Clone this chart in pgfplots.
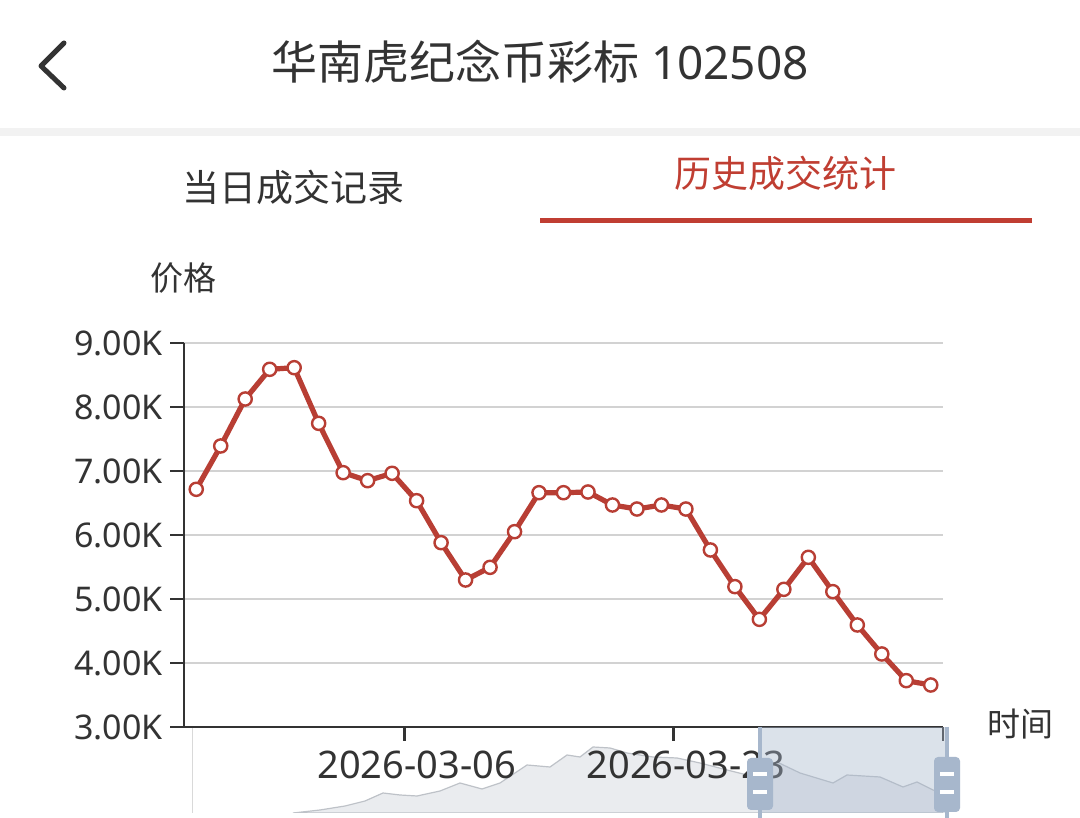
\documentclass[border=0pt]{standalone}
\usepackage{pgfplots}
\pgfplotsset{compat=1.18}
\usepackage{fontspec}
\setmainfont{Noto Sans}
\newfontfamily\cjk{Noto Sans CJK SC}
\definecolor{linered}{RGB}{184,62,52}
\definecolor{tabred}{RGB}{192,62,50}
\definecolor{txt}{RGB}{51,51,51}
\definecolor{gridc}{RGB}{210,210,210}
\definecolor{handle}{RGB}{167,183,204}
\definecolor{shadowfill}{RGB}{234,236,239}
\definecolor{shadowline}{RGB}{190,194,200}

\begin{document}
\begin{tikzpicture}[x=0.5pt,y=0.5pt]
\path[use as bounding box, fill=white] (0,0) rectangle (1080,818);
% header
\draw[txt, line width=2.5pt, line cap=round, line join=round] (64,775) -- (41,752) -- (64,730);
\node[txt, font=\fontsize{23}{23}\selectfont] at (540,756) {{\cjk 华南虎纪念币彩标} 102508};
\fill[black!5] (0,682) rectangle (1080,690);
\node[txt, font=\cjk\fontsize{18.5}{18.5}\selectfont] at (293,631) {当日成交记录};
\node[tabred, font=\cjk\fontsize{18.5}{18.5}\selectfont] at (785,645) {历史成交统计};
\fill[tabred] (540,595) rectangle (1032,600);

% data zoom shadow
\begin{axis}[at={(96pt,2.5pt)}, anchor=south west, scale only axis,
  width=375.5pt, height=43pt, xmin=192, xmax=943, ymin=0, ymax=86,
  hide axis, clip=true]
\addplot[fill=shadowfill, draw=shadowline, line width=0.6pt] coordinates {
(293,0)(320,3)(345,7)(365,12)(383,20)(400,18)(417,17)(440,22)(460,30)(482,24)
(500,30)(527,48)(550,46)(567,58)(580,56)(593,66)(610,65)(627,60)(653,56)(677,55)
(700,50)(727,43)(747,38)(762,45)(777,51)(800,40)(833,30)(847,38)(880,36)(903,26)
(917,31)(933,23)(943,20)} \closedcycle;
\end{axis}
\draw[black!15, line width=0.5pt] (192,91) -- (192,5);

% main chart
\begin{axis}[at={(92pt,45.5pt)}, anchor=south west, scale only axis,
  width=379.5pt, height=192pt,
  xmin=-0.5, xmax=30.5, ymin=3000, ymax=9000,
  axis lines*=left,
  axis line style={txt, line width=1.4pt},
  tick style={txt, line width=1.4pt},
  tick align=outside, major tick length=7pt,
  ytick={3000,4000,5000,6000,7000,8000,9000},
  yticklabels={3.00K,4.00K,5.00K,6.00K,7.00K,8.00K,9.00K},
  y tick label style={font=\fontsize{17}{17}\selectfont, text=txt},
  ymajorgrids, grid style={gridc, line width=1pt},
  xtick={8.5,19.5,30.5}, xticklabels={},
  extra x ticks={9,20},
  extra x tick labels={2026-03-06,2026-03-23},
  extra x tick style={major tick length=0pt, tick style={draw=none},
     tick label style={font=\fontsize{19}{19}\selectfont, text=txt, yshift=-8.5pt}},
  clip=false]
\addplot[linered, line width=2.6pt, line join=round, mark=*, mark size=3.3pt,
  mark options={fill=white, draw=linered, line width=1.2pt}] coordinates {
(0,6714)(1,7391)(2,8125)(3,8589)(4,8614)(5,7745)(6,6974)(7,6849)(8,6964)(9,6536)
(10,5880)(11,5297)(12,5495)(13,6052)(14,6661)(15,6661)(16,6672)(17,6469)(18,6406)(19,6469)
(20,6406)(21,5766)(22,5193)(23,4682)(24,5151)(25,5651)(26,5115)(27,4594)(28,4141)(29,3724)
(30,3656)};
\end{axis}

\node[txt, font=\cjk\fontsize{16.5}{16.5}\selectfont] at (183,540) {价格};
\node[txt, font=\cjk\fontsize{16.5}{16.5}\selectfont] at (1020,94) {时间};

% data zoom window and handles
\fill[handle, opacity=0.4] (760,5) rectangle (947,91);
\draw[handle, line width=2pt] (760,91) -- (760,0);
\draw[handle, line width=2pt] (947,91) -- (947,0);
\fill[handle, rounded corners=2pt] (747,8) rectangle (773,60);
\fill[handle, rounded corners=2pt] (934,6) rectangle (960,61);
\fill[white] (753,42) rectangle (767,46);
\fill[white] (753,24) rectangle (767,28);
\fill[white] (940,42) rectangle (954,46);
\fill[white] (940,24) rectangle (954,28);
\end{tikzpicture}
\end{document}
